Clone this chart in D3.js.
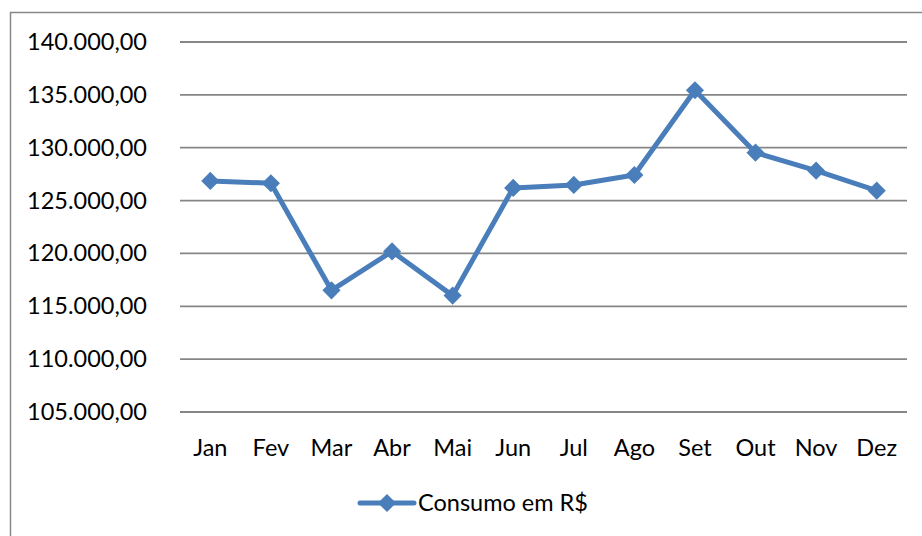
<!DOCTYPE html>
<html>
<head>
<meta charset="utf-8">
<script src="https://cdn.jsdelivr.net/npm/d3@7"></script>
<style>
  body { margin: 0; background: #fff; }
  svg { display: block; font-family: Lato, "Open Sans", sans-serif; }
</style>
</head>
<body>
<svg width="922" height="536"></svg>
<script>
var months = ["Jan", "Fev", "Mar", "Abr", "Mai", "Jun", "Jul", "Ago", "Set", "Out", "Nov", "Dez"];
var consumo = [126860, 126640, 116510, 120190, 116010, 126200, 126480, 127420, 135440, 129530, 127830, 125940];
var yTicks = [105000, 110000, 115000, 120000, 125000, 130000, 135000, 140000];
var seriesName = "Consumo em R$";

var svg = d3.select("svg"),
    margin = {top: 42, right: 15, bottom: 124, left: 180},
    width = 922 - margin.left - margin.right,
    height = 536 - margin.top - margin.bottom;

// chart frame, runs off the right and bottom edges
svg.append("rect")
    .attr("x", 10.5).attr("y", 12.5)
    .attr("width", 940).attr("height", 560)
    .attr("fill", "none")
    .attr("stroke", "#888")
    .attr("stroke-width", 1.5);

var g = svg.append("g").attr("transform", "translate(" + margin.left + "," + margin.top + ")");

var x = d3.scaleBand()
    .domain(months)
    .range([0, width]);

var y = d3.scaleLinear()
    .domain([105000, 140000])
    .range([height, 0]);

var fmt = function(v) {
  return d3.format(",.2f")(v).replace(/,/g, "#").replace(".", ",").replace(/#/g, ".");
};

// gridlines
g.selectAll(".grid")
    .data(yTicks)
  .enter().append("line")
    .attr("x1", 0).attr("x2", width)
    .attr("y1", function(d) { return y(d); })
    .attr("y2", function(d) { return y(d); })
    .attr("stroke", "#868686")
    .attr("stroke-width", 1.8);

var yAxis = g.append("g")
    .call(d3.axisLeft(y).tickValues(yTicks).tickFormat(fmt).tickSize(0).tickPadding(33));
yAxis.select(".domain").remove();
yAxis.selectAll("text")
    .attr("font-size", "23.5px")
    .attr("font-family", "Lato, sans-serif")
    .attr("fill", "#000");

var xAxis = g.append("g")
    .attr("transform", "translate(0," + height + ")")
    .call(d3.axisBottom(x).tickSize(0).tickPadding(27));
xAxis.select(".domain").remove();
xAxis.selectAll("text")
    .attr("font-size", "23.5px")
    .attr("font-family", "Lato, sans-serif")
    .attr("fill", "#000");

var cx = function(d, i) { return x(months[i]) + x.bandwidth() / 2; };

var line = d3.line()
    .x(cx)
    .y(function(d) { return y(d); });

g.append("path")
    .datum(consumo)
    .attr("fill", "none")
    .attr("stroke", "#4a7ebb")
    .attr("stroke-width", 5)
    .attr("stroke-linejoin", "round")
    .attr("d", line);

var diamond = d3.symbol().type(d3.symbolDiamond2).size(210);

g.selectAll(".marker")
    .data(consumo)
  .enter().append("path")
    .attr("d", diamond)
    .attr("transform", function(d, i) { return "translate(" + cx(d, i) + "," + y(d) + ")"; })
    .attr("fill", "#4a7ebb");

// legend
var legend = svg.append("g").attr("transform", "translate(360,503)");
legend.append("line")
    .attr("x1", 0).attr("x2", 54)
    .attr("stroke", "#4a7ebb")
    .attr("stroke-width", 5)
    .attr("stroke-linecap", "round");
legend.append("path")
    .attr("d", diamond)
    .attr("transform", "translate(27,0)")
    .attr("fill", "#4a7ebb");
legend.append("text")
    .attr("x", 58)
    .attr("dy", "0.35em")
    .attr("font-size", "23.5px")
    .text(seriesName);
</script>
</body>
</html>
